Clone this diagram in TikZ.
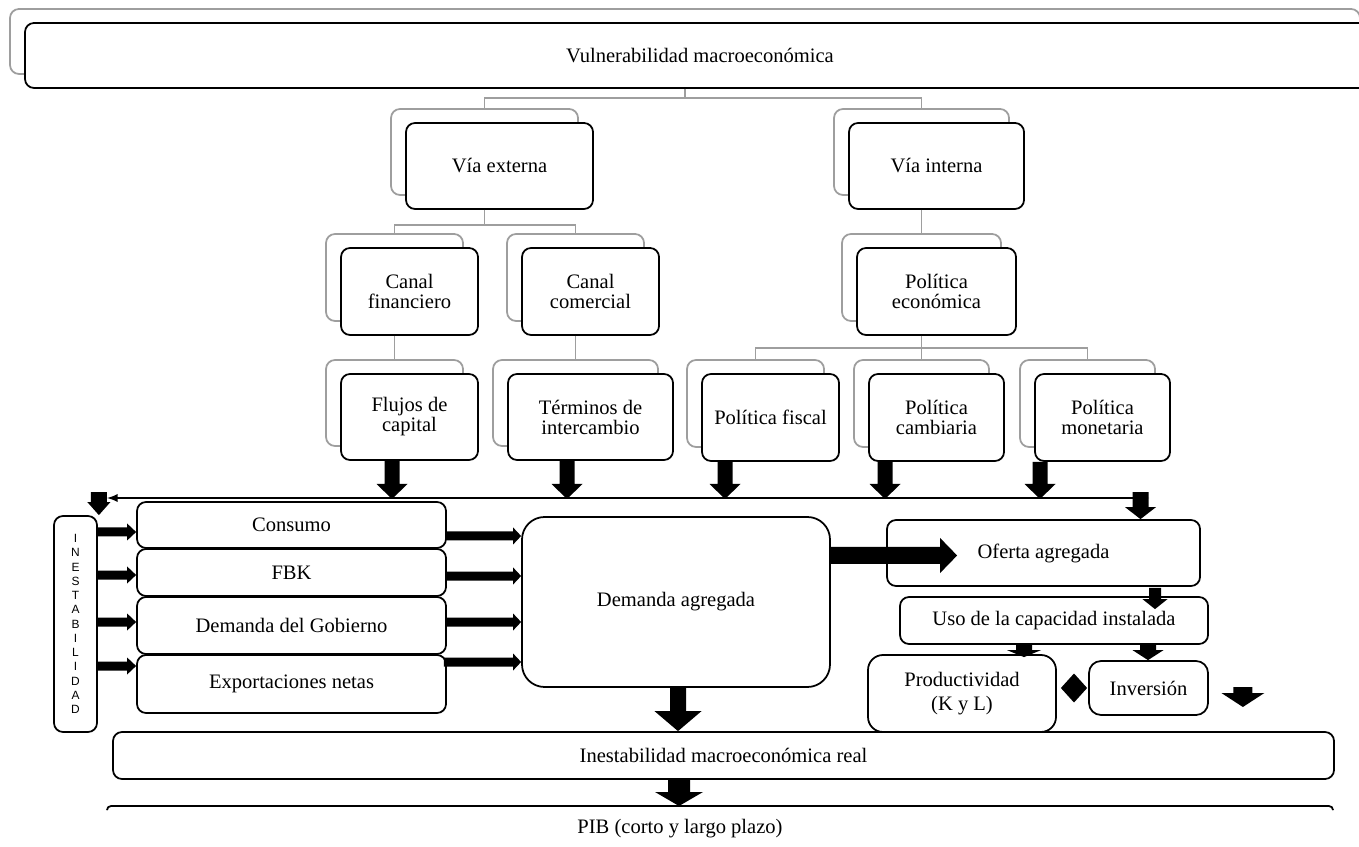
\documentclass[tikz,border=0pt]{standalone}
\usepackage{fontspec}
\setmainfont{Liberation Serif}
\setsansfont{Liberation Sans}
\usetikzlibrary{calc, arrows}
\tikzset{>=latex}
\tikzset{
  sz/.style 2 args={minimum width=#1*0.02cm, minimum height=#2*0.02cm},
  bbox/.style={draw, line width=1pt, rounded corners=0.18cm, fill=white, inner sep=0pt,
    align=center, font=\fontsize{11.7}{11.4}\selectfont},
  gbox/.style={draw=black!38, line width=1pt, rounded corners=0.18cm, inner sep=0pt},
  gline/.style={draw=black!38, line width=1pt},
}
\newcommand\tierbox[5]{%
  \node[gbox, sz={#3}{#4}] (#1-g) at ($#2+(-15,-14)$) {};
  \node[bbox, sz={#3}{#4}] (#1) at #2 {#5};}
\newcommand\dnarrow[5]{%
  \coordinate (s) at #1; \coordinate (tt) at #2; \coordinate (t) at (s |- tt);
  \fill ($(s)+(-#3,0)$) -- ($(t)+(-#3,-#5)$) -- ($(t)+(-#4,-#5)$) -- (t)
    -- ($(t)+(#4,-#5)$) -- ($(t)+(#3,-#5)$) -- ($(s)+(#3,0)$) -- cycle;}
\newcommand\rtarrow[5]{%
  \coordinate (s) at #1; \coordinate (tt) at #2; \coordinate (t) at (s -| tt);
  \fill ($(s)+(0,-#3)$) -- ($(t)+(-#5,-#3)$) -- ($(t)+(-#5,-#4)$) -- (t)
    -- ($(t)+(-#5,#4)$) -- ($(t)+(-#5,#3)$) -- ($(s)+(0,#3)$) -- cycle;}

\begin{document}
\begin{tikzpicture}[x=0.02cm, y=-0.02cm]
\useasboundingbox (0,0) rectangle (1359,847);
\clip (0,0) rectangle (1359,847);

% jerarquia
\tierbox{vuln}{(700,55.5)}{1350}{65}{Vulnerabilidad macroeconómica}
\tierbox{vext}{(499.5,166)}{187}{86}{Vía externa}
\tierbox{vint}{(936.5,166)}{175}{86}{Vía interna}
\tierbox{cfin}{(409.5,291.5)}{137}{87}{Canal\\financiero}
\tierbox{ccom}{(590.5,291.5)}{137}{87}{Canal\\comercial}
\tierbox{peco}{(936.5,291.5)}{159}{87}{Política\\económica}
\tierbox{flujos}{(409.5,417)}{137}{86}{Flujos de\\capital}
\tierbox{term}{(590.5,417)}{165}{86}{Términos de\\intercambio}
\tierbox{pfis}{(770.5,417.5)}{137}{87}{Política fiscal}
\tierbox{pcam}{(936.5,417.5)}{135}{87}{Política\\cambiaria}
\tierbox{pmon}{(1102.5,417.5)}{135}{87}{Política\\monetaria}

\draw[gline] (vuln-g |- vuln.south) -- ++(0,9) -| (vext-g.north);
\draw[gline] (vuln-g |- vuln.south) -- ++(0,9) -| (vint-g.north);
\draw[gline] (vext-g |- vext.south) -- ++(0,15) -| (cfin-g.north);
\draw[gline] (vext-g |- vext.south) -- ++(0,15) -| (ccom-g.north);
\draw[gline] (vint-g |- vint.south) -- (peco-g.north);
\draw[gline] (cfin-g |- cfin.south) -- (flujos-g.north);
\draw[gline] (ccom-g |- ccom.south) -- (term-g.north);
\draw[gline] (peco-g |- peco.south) -- ++(0,12) -| (pfis-g.north);
\draw[gline] (peco-g |- peco.south) -- (pcam-g.north);
\draw[gline] (peco-g |- peco.south) -- ++(0,12) -| (pmon-g.north);

% transmision
\node[bbox, sz={43}{216}, font=\sffamily\fontsize{6.8}{8.1}\selectfont] (inest) at (75.5,624)
  {I\\N\\E\\S\\T\\A\\B\\I\\L\\I\\D\\A\\D};
\node[bbox, sz={309}{46}] (cons) at (291.5,525) {Consumo};
\node[bbox, sz={309}{47}] (fbk) at (291.5,572.5) {FBK};
\node[bbox, sz={309}{57}] (gob) at (291.5,625.5) {Demanda del Gobierno};
\node[bbox, sz={309}{58}] (expo) at (291.5,684) {Exportaciones netas};
\node[bbox, sz={308}{170}, rounded corners=0.45cm] (dagr) at (676,602) {Demanda agregada};
\node[bbox, sz={313}{66}] (oagr) at (1043.5,553) {Oferta agregada};
\node[bbox, sz={308}{47}] (uso) at (1054,620.5) {Uso de la capacidad instalada};
\node[bbox, sz={188}{77}, rounded corners=0.3cm, font=\fontsize{11.7}{13.7}\selectfont]
  (prod) at (962,693.5) {Productividad\\(K y L)};
\node[bbox, sz={119}{54}, rounded corners=0.24cm] (inv) at (1148.5,688) {Inversión};
\node[bbox, sz={1221}{47}] (inreal) at (723.5,755.5) {Inestabilidad macroeconómica real};
\node[inner sep=0pt, font=\fontsize{11.7}{11.4}\selectfont] (pib) at (680,829) {PIB (corto y largo plazo)};

\coordinate (pibL) at (107,806);
\coordinate (pibR) at (1333,806);
\draw[line width=1pt, rounded corners=0.08cm] ($(pibL)+(0,4)$) -- (pibL) -- (pibR) -- ($(pibR)+(0,4)$);

\coordinate (busL) at (107,498);
\coordinate (busR) at (1149,498);
\draw[line width=1.1pt, <->] (busL) -- (busR);

\dnarrow{($(inest.north east)+(1,-23)$)}{(inest.north east)}{8}{11.5}{13}
\dnarrow{($(oagr.north)+(97,-27)$)}{(oagr.north)}{8}{15.5}{12}

\dnarrow{($(flujos.south)+(-17.5,0)$)}{($(busL)+(0,1)$)}{7.5}{15.5}{15}
\dnarrow{($(term.south)+(-23.5,0)$)}{($(busL)+(0,1)$)}{7.5}{15.5}{15}
\dnarrow{($(pfis.south)+(-45.5,0)$)}{($(busL)+(0,1)$)}{7.5}{15.5}{15}
\dnarrow{($(pcam.south)+(-51.5,0)$)}{($(busL)+(0,1)$)}{7.5}{15.5}{15}
\dnarrow{($(pmon.south)+(-62.5,0)$)}{($(busL)+(0,1)$)}{7.5}{15.5}{15}

\rtarrow{($(cons.west -| inest.east)+(0,7)$)}{(cons.west)}{4.5}{8.5}{9}
\rtarrow{($(fbk.west -| inest.east)+(0,2.5)$)}{(fbk.west)}{4.5}{8.5}{9}
\rtarrow{($(gob.west -| inest.east)+(0,-3.5)$)}{(gob.west)}{4.5}{8.5}{9}
\rtarrow{($(expo.west -| inest.east)+(0,-18)$)}{(expo.west)}{4.5}{8.5}{9}

\rtarrow{($(cons.east)+(0,11)$)}{(dagr.west)}{4.5}{8.5}{8}
\rtarrow{($(fbk.east)+(0,3.5)$)}{(dagr.west)}{4.5}{8.5}{8}
\rtarrow{($(gob.east)+(0,-3.5)$)}{(dagr.west)}{4.5}{8.5}{8}
\rtarrow{($(expo.east)+(-3,-22)$)}{(dagr.west)}{4.5}{8.5}{8}

\rtarrow{($(dagr.east)+(0,-46.5)$)}{($(oagr.west)+(71,0)$)}{8.5}{17.5}{17}
\dnarrow{($(oagr.south)+(111.5,1)$)}{($(uso.north)+(0,13)$)}{6}{12.5}{10}
\dnarrow{($(uso.south)+(-30,0)$)}{($(prod.north)+(0,3)$)}{8}{17}{7}
\dnarrow{($(uso.south)+(94,0)$)}{(inv.north)}{8}{15.5}{10}

\coordinate (pl) at ($(inv.west -| prod.east)+(4,0)$);
\coordinate (pr) at ($(inv.west)+(-1,0)$);
\fill (pl) -- ($(pl)!0.5!(pr)+(0,-14.5)$) -- (pr) -- ($(pl)!0.5!(pr)+(0,14.5)$) -- cycle;

\coordinate (stray) at ($(inv.east)+(34,-1)$);
\dnarrow{(stray)}{($(stray)+(0,20)$)}{9.5}{21.5}{14}

\dnarrow{($(dagr.south)+(2,0)$)}{(inreal.north)}{8}{23.5}{20}
\dnarrow{($(inreal.south)+(-44.5,0)$)}{(pibL)}{11}{24}{14}
\end{tikzpicture}
\end{document}
